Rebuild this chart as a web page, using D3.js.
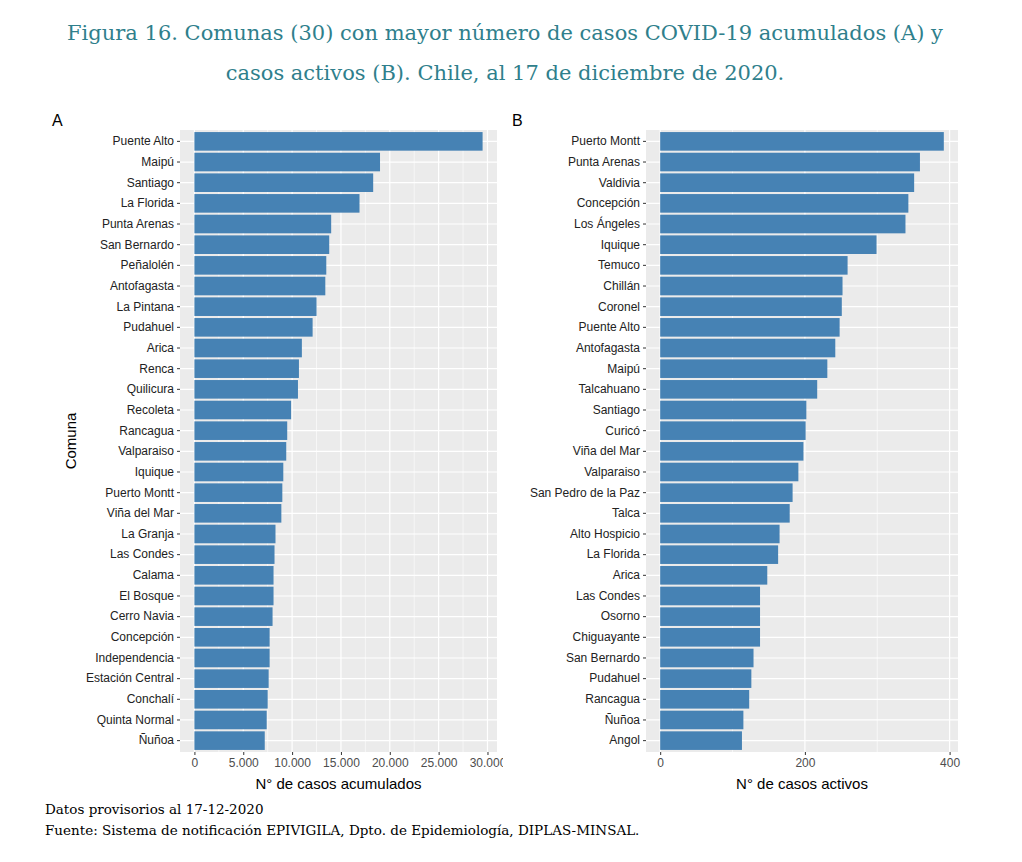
<!DOCTYPE html>
<html><head><meta charset="utf-8">
<script src="https://cdn.jsdelivr.net/npm/d3@7"></script>
<style>body{margin:0;background:#fff}</style>
</head><body>
<svg id="chart" width="1022" height="862"></svg>
<script>
// Panel A: cumulative cases
const comunasA = ["Puente Alto","Maipú","Santiago","La Florida","Punta Arenas","San Bernardo","Peñalolén","Antofagasta","La Pintana","Pudahuel","Arica","Renca","Quilicura","Recoleta","Rancagua","Valparaiso","Iquique","Puerto Montt","Viña del Mar","La Granja","Las Condes","Calama","El Bosque","Cerro Navia","Concepción","Independencia","Estación Central","Conchalí","Quinta Normal","Ñuñoa"];
const casosA = [29500,19000,18300,16900,14000,13800,13500,13400,12500,12100,11000,10700,10600,9900,9500,9400,9100,9000,8900,8300,8200,8100,8100,8000,7700,7700,7600,7500,7400,7200];
// Panel B: active cases
const comunasB = ["Puerto Montt","Punta Arenas","Valdivia","Concepción","Los Ángeles","Iquique","Temuco","Chillán","Coronel","Puente Alto","Antofagasta","Maipú","Talcahuano","Santiago","Curicó","Viña del Mar","Valparaiso","San Pedro de la Paz","Talca","Alto Hospicio","La Florida","Arica","Las Condes","Osorno","Chiguayante","San Bernardo","Pudahuel","Rancagua","Ñuñoa","Angol"];
const casosB = [392,359,351,343,339,299,259,252,251,248,242,231,217,202,201,198,191,183,179,165,163,148,138,138,138,129,126,123,115,113];
const ticksA = [0,5000,10000,15000,20000,25000,30000];
const ticksB = [0,200,400];

const svg = d3.select("#chart");
const fmt = d => d3.format(",")(d).replace(/,/g, ".");

svg.append("text").attr("x",505).attr("y",40).attr("text-anchor","middle")
  .attr("font-family","DejaVu Serif").attr("font-size",21).attr("fill","#2f7f8c")
  .text("Figura 16. Comunas (30) con mayor número de casos COVID-19 acumulados (A) y");
svg.append("text").attr("x",505).attr("y",80).attr("text-anchor","middle")
  .attr("font-family","DejaVu Serif").attr("font-size",21).attr("fill","#2f7f8c")
  .text("casos activos (B). Chile, al 17 de diciembre de 2020.");

function panel(opts){
  const {x0,x1,names,vals,xmax,ticks,label,tag,tagX,tickFmt} = opts;
  const top = 130, bottom = 752;
  const g = svg.append("g");
  const x = d3.scaleLinear().domain([-xmax*0.05/1.0, xmax*1.05]).range([x0,x1]);
  const y = d3.scaleBand().domain(names).range([top,bottom]).padding(0.1);
  g.append("rect").attr("x",x0).attr("y",top).attr("width",x1-x0).attr("height",bottom-top).attr("fill","#ebebeb");
  const minor = ticks.slice(0,-1).map((t,i)=>(t+ticks[i+1])/2);
  g.selectAll(".mn").data(minor).join("line").attr("x1",d=>x(d)).attr("x2",d=>x(d))
    .attr("y1",top).attr("y2",bottom).attr("stroke","#fff").attr("stroke-width",0.6);
  g.selectAll(".mj").data(ticks).join("line").attr("x1",d=>x(d)).attr("x2",d=>x(d))
    .attr("y1",top).attr("y2",bottom).attr("stroke","#fff").attr("stroke-width",1.2);
  g.selectAll(".hy").data(names).join("line").attr("x1",x0).attr("x2",x1)
    .attr("y1",d=>y(d)+y.bandwidth()/2).attr("y2",d=>y(d)+y.bandwidth()/2).attr("stroke","#fff").attr("stroke-width",1.2);
  g.selectAll(".bar").data(names).join("rect").attr("x",x(0)).attr("y",d=>y(d))
    .attr("width",(d,i)=>x(vals[i])-x(0)).attr("height",y.bandwidth()).attr("fill","#4682b4");
  // axes
  const ax = g.append("g").attr("transform",`translate(0,${bottom})`)
    .call(d3.axisBottom(x).tickValues(ticks).tickFormat(tickFmt).tickSize(3));
  ax.select(".domain").remove();
  ax.selectAll("line").attr("stroke","#333");
  ax.selectAll("text").attr("fill","#4d4d4d").attr("font-size",12).attr("font-family","Liberation Sans");
  const ay = g.append("g").attr("transform",`translate(${x0},0)`)
    .call(d3.axisLeft(y).tickSize(3));
  ay.select(".domain").remove();
  ay.selectAll("line").attr("stroke","#333");
  ay.selectAll("text").attr("fill","#222").attr("font-size",12).attr("font-family","Liberation Sans");
  g.append("text").attr("x",(x0+x1)/2).attr("y",789).attr("text-anchor","middle")
    .attr("font-size",15).attr("font-family","Liberation Sans").text(label);
  g.append("text").attr("x",tagX).attr("y",126).attr("font-size",16).attr("font-family","Liberation Sans").text(tag);
}

panel({x0:180,x1:497,names:comunasA,vals:casosA,xmax:29500,ticks:ticksA,label:"N° de casos acumulados",tag:"A",tagX:52,tickFmt:fmt});
panel({x0:646,x1:958,names:comunasB,vals:casosB,xmax:392,ticks:ticksB,label:"N° de casos activos",tag:"B",tagX:512,tickFmt:d=>d});

// clip effect of cut-off "30.000" label: white cover beyond panel A
svg.append("rect").attr("x",503).attr("y",756).attr("width",20).attr("height",20).attr("fill","#fff");

svg.append("text").attr("transform","translate(76,441) rotate(-90)").attr("text-anchor","middle")
  .attr("font-size",15).attr("font-family","Liberation Sans").text("Comuna");

svg.append("text").attr("x",45).attr("y",814).attr("font-family","DejaVu Serif").attr("font-size",13.5)
  .text("Datos provisorios al 17-12-2020");
svg.append("text").attr("x",45).attr("y",835).attr("font-family","DejaVu Serif").attr("font-size",13.5)
  .text("Fuente: Sistema de notificación EPIVIGILA, Dpto. de Epidemiología, DIPLAS-MINSAL.");
</script>
</body></html>
